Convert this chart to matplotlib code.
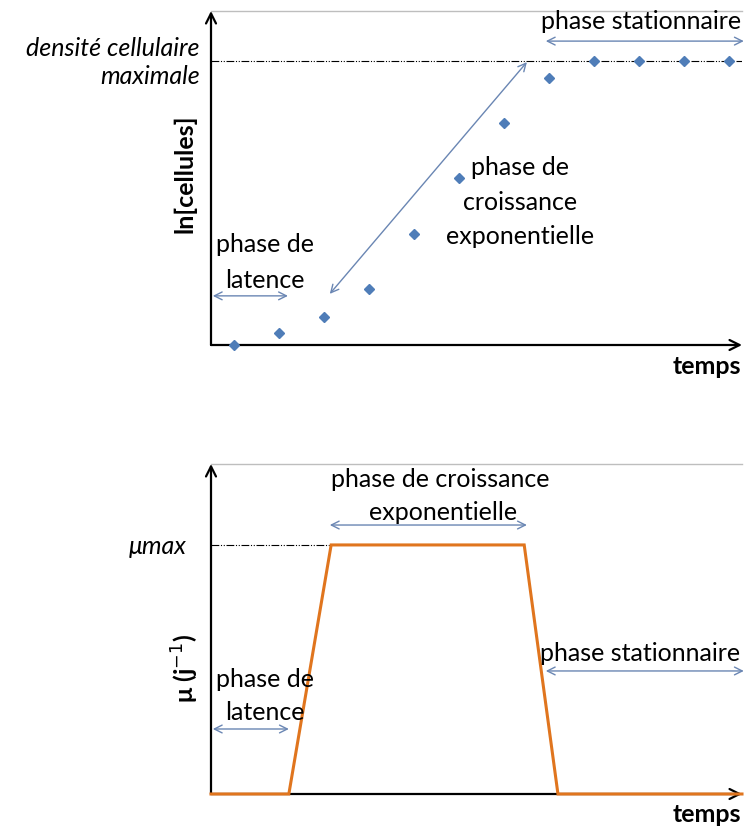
import matplotlib
matplotlib.use("Agg")
import matplotlib.pyplot as plt

# growth curve data (arbitrary units)
t_points = [0.5, 1.5, 2.5, 3.5, 4.5, 5.5, 6.5, 7.5, 8.5, 9.5, 10.5, 11.5]
ln_cells = [0.0, 0.42, 0.99, 1.97, 3.9, 5.88, 7.82, 9.4, 10.0, 10.0, 10.0, 10.0]
ln_max = 10.0

# specific growth rate
mu_t = [0.0, 1.73, 2.67, 6.96, 7.71, 11.8]
mu_vals = [0.0, 0.0, 1.0, 1.0, 0.0, 0.0]
mu_max = 1.0

plt.rcParams['font.family'] = ['Lato', 'DejaVu Sans']
FS = 18
ARROW_COL = '#6A86B3'
DOT_COL = '#4F7DB8'
ORANGE = '#E0751E'
DASH = (0, (7, 1.5, 1, 1.5, 1, 1.5))

W, H = 744, 829
fig = plt.figure(figsize=(W / 100, H / 100), dpi=100)

def px_axes(x0, y_top, x1, y_bot):
    return fig.add_axes([x0 / W, 1 - y_bot / H, (x1 - x0) / W, (y_bot - y_top) / H])

def setup(ax):
    for s in ['right', 'left', 'bottom']:
        ax.spines[s].set_visible(False)
    ax.spines['top'].set_color('#BEBEBE')
    ax.spines['top'].set_linewidth(1.0)
    ax.set_xticks([])
    ax.set_yticks([])
    ax.patch.set_alpha(0)
    # axes drawn as arrows
    ax.annotate('', xy=(0, 1), xytext=(0, 0), xycoords='axes fraction',
                arrowprops=dict(arrowstyle='->', lw=1.6, color='black',
                                shrinkA=0, shrinkB=0, mutation_scale=18))
    ax.annotate('', xy=(1, 0), xytext=(0, 0), xycoords='axes fraction',
                arrowprops=dict(arrowstyle='->', lw=1.6, color='black',
                                shrinkA=0, shrinkB=0, mutation_scale=18))

def darrow(ax, p0, p1):
    ax.annotate('', xy=p1, xytext=p0, annotation_clip=False,
                arrowprops=dict(arrowstyle='<->', lw=1.0, color=ARROW_COL,
                                shrinkA=0, shrinkB=0, mutation_scale=14))

# ---------- top: ln[cellules] ----------
ax1 = px_axes(211, 12, 742, 346)
setup(ax1)
ax1.set_xlim(0, 11.8)
ax1.set_ylim(0, 11.76)
ax1.plot([0, 11.8], [ln_max, ln_max], color='black', lw=0.8, ls=DASH, zorder=1)
ax1.plot(t_points, ln_cells, ls='none', marker='D', ms=5.5, color=DOT_COL,
         clip_on=False, zorder=3)

ax1.text(9.56, 11.41, 'phase stationnaire', ha='center', va='center', fontsize=FS)
darrow(ax1, (7.44, 10.7), (11.84, 10.7))
darrow(ax1, (2.64, 1.8), (7.02, 9.96))
ax1.text(6.87, 6.27, 'phase de', ha='center', va='center', fontsize=FS)
ax1.text(6.87, 5.07, 'croissance', ha='center', va='center', fontsize=FS)
ax1.text(6.87, 3.84, 'exponentielle', ha='center', va='center', fontsize=FS)
ax1.text(1.2, 3.56, 'phase de', ha='center', va='center', fontsize=FS)
ax1.text(1.2, 2.32, 'latence', ha='center', va='center', fontsize=FS)
darrow(ax1, (0.04, 1.73), (1.71, 1.73))

fig.text(200 / W, 1 - 48 / H, 'densité cellulaire', ha='right', va='center',
         fontsize=FS, style='italic')
fig.text(200 / W, 1 - 77 / H, 'maximale', ha='right', va='center',
         fontsize=FS, style='italic')
fig.text(185 / W, 1 - 174 / H, 'ln[cellules]', ha='center', va='center',
         rotation=90, fontsize=FS, fontweight='bold')
fig.text(741 / W, 1 - 367 / H, 'temps', ha='right', va='center',
         fontsize=FS, fontweight='bold')

# ---------- bottom: mu ----------
ax2 = px_axes(211, 465, 742, 795)
setup(ax2)
ax2.set_xlim(0, 11.8)
ax2.set_ylim(0, 1.325)
ax2.plot([0, 2.67], [mu_max, mu_max], color='black', lw=0.8, ls=DASH, zorder=1)
ax2.plot(mu_t, mu_vals, color=ORANGE, lw=2.2, clip_on=False, zorder=3,
         solid_joinstyle='miter')

ax2.text(5.09, 1.265, 'phase de croissance', ha='center', va='center', fontsize=FS)
ax2.text(5.16, 1.133, 'exponentielle', ha='center', va='center', fontsize=FS)
darrow(ax2, (2.64, 1.08), (7.02, 1.08))
ax2.text(1.2, 0.462, 'phase de', ha='center', va='center', fontsize=FS)
ax2.text(1.2, 0.333, 'latence', ha='center', va='center', fontsize=FS)
darrow(ax2, (0.04, 0.261), (1.73, 0.261))
ax2.text(9.53, 0.57, 'phase stationnaire', ha='center', va='center', fontsize=FS)
darrow(ax2, (7.44, 0.494), (11.84, 0.494))

fig.text(158 / W, 1 - 546 / H, 'μmax', ha='center', va='center',
         fontsize=FS, style='italic')
fig.text(185 / W, 1 - 668 / H, 'μ (j$^{-1}$)', ha='center', va='center',
         rotation=90, fontsize=FS, fontweight='bold')
fig.text(741 / W, 1 - 815 / H, 'temps', ha='right', va='center',
         fontsize=FS, fontweight='bold')

fig.savefig('out.png', dpi=100)
